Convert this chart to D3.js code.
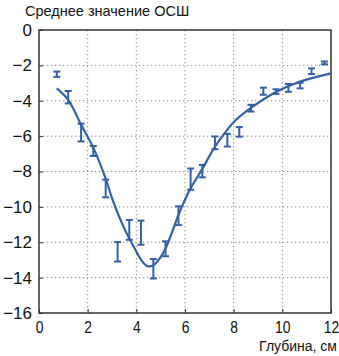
<!DOCTYPE html>
<html>
<head>
<meta charset="utf-8">
<script src="https://cdn.jsdelivr.net/npm/d3@7"></script>
<style>
  body { margin: 0; background: #fff; }
  text { font-family: "Liberation Sans", Arial, sans-serif; fill: #111; }
</style>
</head>
<body>
<svg id="chart" width="339" height="356"></svg>
<script>
// measured points (depth, cm) with error bars
const depth = [0.73, 1.2, 1.73, 2.23, 2.74, 3.23, 3.71, 4.19, 4.7, 5.2, 5.73, 6.23, 6.71, 7.23, 7.74, 8.23, 8.71, 9.22, 9.74, 10.25, 10.73, 11.2, 11.73]
const snr = [-2.5, -3.8, -5.8, -6.84, -8.96, -12.54, -11.3, -11.46, -13.5, -12.37, -10.5, -8.43, -7.98, -6.38, -6.23, -5.76, -4.42, -3.46, -3.48, -3.27, -3.14, -2.33, -1.86]
const err = [0.15, 0.35, 0.5, 0.28, 0.5, 0.55, 0.56, 0.68, 0.55, 0.42, 0.53, 0.6, 0.35, 0.36, 0.36, 0.27, 0.19, 0.2, 0.13, 0.22, 0.16, 0.16, 0.08]

// fitted curve
const fitX = [0.73, 1.2, 1.73, 2.23, 2.74, 3.0, 3.5, 3.95, 4.2, 4.45, 4.7, 4.97, 5.2, 5.45, 5.73, 6.0, 6.23, 6.71, 7.23, 7.7, 8.12, 8.71, 9.74, 10.73, 12]
const fitY = [-3.3, -3.95, -5.35, -6.65, -8.4, -9.5, -11.2, -12.4, -13.0, -13.35, -13.3, -12.9, -12.35, -11.5, -10.45, -9.6, -8.95, -7.85, -6.6, -5.7, -5.05, -4.4, -3.5, -2.92, -2.45]

const xTicks = [0, 2, 4, 6, 8, 10, 12]
const yTicks = [0, -2, -4, -6, -8, -10, -12, -14, -16]

const width = 339, height = 356
const margin = {top: 30, right: 8, bottom: 43, left: 39}
const blue = "#3260a3"

const svg = d3.select("#chart")

const x = d3.scaleLinear().domain([0, 12]).range([margin.left, width - margin.right])
const y = d3.scaleLinear().domain([-16, 0]).range([height - margin.bottom, margin.top])

// grid lines, dotted
svg.append("g")
  .selectAll("line")
  .data(xTicks.slice(1, -1))
  .join("line")
  .attr("x1", d => x(d)).attr("x2", d => x(d))
  .attr("y1", y(0)).attr("y2", y(-16))
  .attr("stroke", "#8a8a8a")
  .attr("stroke-width", 1)
  .attr("stroke-dasharray", "1.3,2.7")

svg.append("g")
  .selectAll("line")
  .data(yTicks.slice(1, -1))
  .join("line")
  .attr("x1", x(0)).attr("x2", x(12))
  .attr("y1", d => y(d)).attr("y2", d => y(d))
  .attr("stroke", "#8a8a8a")
  .attr("stroke-width", 1)
  .attr("stroke-dasharray", "1.3,2.7")

// axes, labels only
const fmt = d => d < 0 ? "\u2212" + Math.abs(d) : String(d)

const xAxis = svg.append("g")
  .attr("transform", `translate(0,${y(-16)})`)
  .call(d3.axisBottom(x).tickValues(xTicks).tickFormat(fmt).tickSize(-4).tickPadding(8))
xAxis.select(".domain").remove()
xAxis.selectAll("line").attr("stroke", "#333")
// the picture's x labels are narrower than the y labels
xAxis.selectAll("text")
  .style("font-size", "17px")
  .attr("dy", "0.72em")
  .attr("transform", "scale(0.82,1)")

const yAxis = svg.append("g")
  .attr("transform", `translate(${x(0)},0)`)
  .call(d3.axisLeft(y).tickValues(yTicks).tickFormat(fmt).tickSize(-4).tickPadding(7))
yAxis.select(".domain").remove()
yAxis.selectAll("line").attr("stroke", "#333")
yAxis.selectAll("text").style("font-size", "17px")

// frame
svg.append("rect")
  .attr("x", x(0)).attr("y", y(0))
  .attr("width", x(12) - x(0)).attr("height", y(-16) - y(0))
  .attr("fill", "none")
  .attr("stroke", "#333")
  .attr("stroke-width", 1.5)

// fitted curve
const line = d3.line()
  .x((d, i) => x(fitX[i]))
  .y(d => y(d))
  .curve(d3.curveCatmullRom.alpha(0.5))

svg.append("path")
  .datum(fitY)
  .attr("d", line)
  .attr("fill", "none")
  .attr("stroke", blue)
  .attr("stroke-width", 2.2)

// error bars
const cap = 3.5
const bars = svg.append("g")
  .selectAll("g")
  .data(depth)
  .join("g")
  .attr("stroke", blue)
  .attr("stroke-width", 2)

bars.append("line")
  .attr("x1", d => x(d)).attr("x2", d => x(d))
  .attr("y1", (d, i) => y(snr[i] + err[i]))
  .attr("y2", (d, i) => y(snr[i] - err[i]))
bars.append("line")
  .attr("x1", d => x(d) - cap).attr("x2", d => x(d) + cap)
  .attr("y1", (d, i) => y(snr[i] + err[i]))
  .attr("y2", (d, i) => y(snr[i] + err[i]))
bars.append("line")
  .attr("x1", d => x(d) - cap).attr("x2", d => x(d) + cap)
  .attr("y1", (d, i) => y(snr[i] - err[i]))
  .attr("y2", (d, i) => y(snr[i] - err[i]))

// titles
svg.append("text")
  .attr("x", 25).attr("y", 16)
  .style("font-size", "14.5px")
  .text("Среднее значение ОСШ")

svg.append("text")
  .attr("x", 337).attr("y", 351)
  .attr("text-anchor", "end")
  .style("font-size", "14px")
  .text("Глубина, см")
</script>
</body>
</html>
